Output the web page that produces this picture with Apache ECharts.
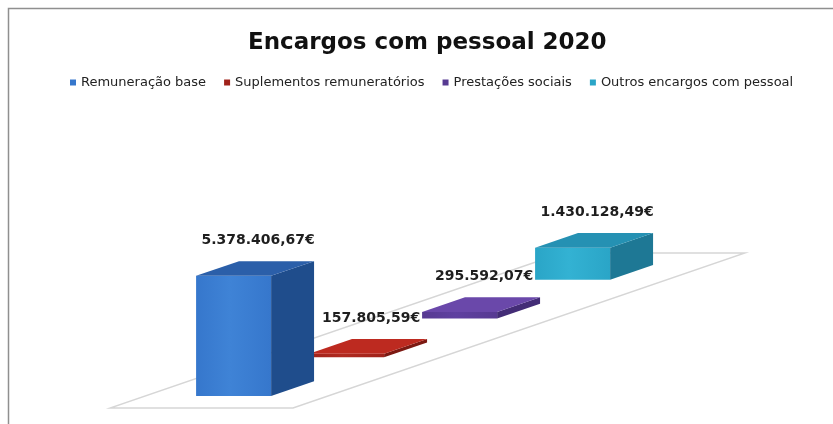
<!DOCTYPE html>
<html>
<head>
<meta charset="utf-8">
<script src="https://cdn.jsdelivr.net/npm/echarts@6/dist/echarts.min.js"></script>
<style>
  html, body { margin: 0; padding: 0; background: #ffffff; }
  #chart { width: 833px; height: 424px; }
</style>
</head>
<body>
<div id="chart"></div>
<script>
// Personnel costs 2020, one 3D column per cost type, each in its own depth row
const seriesNames = [
  'Remuneração base',
  'Suplementos remuneratórios',
  'Prestações sociais',
  'Outros encargos com pessoal'
];
const seriesValues = [5378406.67, 157805.59, 295592.07, 1430128.49];

// face colours per series: front, side, top
const frontColors = ['#3677cc', '#a0221a', '#573a92', '#2aa5c7'];
const frontLight  = ['#3f83d6', '#b02a20', '#5f40a0', '#33b2d3'];
const sideColors  = ['#1f4d8c', '#7c1912', '#432c76', '#1e7895'];
const topColors   = ['#2b5fa9', '#bd2a20', '#6a48aa', '#2591b3'];

// oblique projection: screen offset for one depth row
const ROW_DX = 113;
const ROW_DY = -38.75;
const ROWS = 4;
// box placement inside its category slot and depth row
const BAR_L = 0.279;
const BAR_R = 0.689;
const BOX_FRONT = 0.31;
const BOX_DEPTH = 0.38;
const LABEL_GAP = 28;
const LABEL_DX = 3;

function formatEuro(v) {
  const parts = v.toFixed(2).split('.');
  const intPart = parts[0].replace(/\B(?=(\d{3})+(?!\d))/g, '.');
  return intPart + ',' + parts[1] + '€';
}

function shift(p, d) {
  return [p[0] + d * ROW_DX, p[1] + d * ROW_DY];
}

function renderFloor(params, api) {
  const a = api.coord([0, 0]);
  const b = api.coord([1, 0]);
  const pts = [a, b, shift(b, ROWS), shift(a, ROWS)];
  return {
    type: 'polygon',
    shape: { points: pts },
    z2: 0,
    style: { fill: '#ffffff', stroke: '#d6d6d6', lineWidth: 1.4 }
  };
}

function makeBoxRenderer(i) {
  return function (params, api) {
    const row = api.value(0);
    const v = api.value(1);
    const f0 = api.coord([BAR_L, 0]);
    const f1 = api.coord([BAR_R, 0]);
    const t0 = api.coord([BAR_L, v]);
    const t1 = api.coord([BAR_R, v]);
    const d0 = row + BOX_FRONT;
    const d1 = row + BOX_FRONT + BOX_DEPTH;
    const base = 10 * (ROWS - row);
    const front = [shift(t0, d0), shift(t1, d0), shift(f1, d0), shift(f0, d0)];
    const side = [shift(t1, d0), shift(t1, d1), shift(f1, d1), shift(f1, d0)];
    const top = [shift(t0, d0), shift(t0, d1), shift(t1, d1), shift(t1, d0)];
    const lx = (shift(t0, d0)[0] + shift(t1, d1)[0]) / 2 + LABEL_DX;
    const ly = (shift(t0, d0)[1] + shift(t1, d1)[1]) / 2 - LABEL_GAP;
    return {
      type: 'group',
      children: [
        {
          type: 'polygon', shape: { points: front }, z2: base + 1,
          style: {
            fill: {
              type: 'linear', x: 0, y: 0, x2: 1, y2: 0,
              colorStops: [
                { offset: 0, color: frontColors[i] },
                { offset: 0.45, color: frontLight[i] },
                { offset: 1, color: frontColors[i] }
              ]
            }
          }
        },
        {
          type: 'polygon', shape: { points: side }, z2: base + 2,
          style: { fill: sideColors[i] }
        },
        {
          type: 'polygon', shape: { points: top }, z2: base + 3,
          style: { fill: topColors[i] }
        },
        {
          type: 'text', z2: 100,
          style: {
            x: lx, y: ly,
            text: formatEuro(v),
            align: 'center', verticalAlign: 'middle',
            fill: '#1e1e1e',
            font: 'bold 14px "DejaVu Sans"'
          }
        }
      ]
    };
  };
}

const boxSeries = seriesNames.map(function (name, i) {
  return {
    type: 'custom',
    name: name,
    coordinateSystem: 'cartesian2d',
    itemStyle: { color: frontColors[i] },
    renderItem: makeBoxRenderer(i),
    data: [[i, seriesValues[i]]],
    silent: true,
    z: 2
  };
});

const chart = echarts.init(document.getElementById('chart'), null, { renderer: 'canvas' });
chart.setOption({
  animation: false,
  backgroundColor: '#ffffff',
  title: {
    text: 'Encargos com pessoal 2020',
    left: 243,
    top: 27,
    textStyle: {
      fontFamily: 'DejaVu Sans',
      fontWeight: 'bold',
      fontSize: 23,
      color: '#111111'
    }
  },
  legend: {
    data: seriesNames,
    left: 65,
    top: 71,
    icon: 'rect',
    itemWidth: 6,
    itemHeight: 6,
    itemGap: 18,
    textStyle: {
      fontFamily: 'DejaVu Sans',
      fontSize: 13,
      color: '#222222'
    }
  },
  graphic: [
    {
      type: 'rect',
      shape: { x: 8.5, y: 8.5, width: 900, height: 500 },
      style: { fill: 'none', stroke: '#8f8f8f', lineWidth: 1.5 },
      silent: true
    }
  ],
  grid: { left: 110, width: 183, bottom: 16, height: 134 },
  xAxis: { type: 'value', min: 0, max: 1, show: false },
  yAxis: { type: 'value', min: 0, max: 6000000, show: false },
  series: [
    {
      type: 'custom',
      name: 'floor',
      coordinateSystem: 'cartesian2d',
      renderItem: renderFloor,
      data: [[0]],
      silent: true,
      z: 2
    }
  ].concat(boxSeries)
});
</script>
</body>
</html>
